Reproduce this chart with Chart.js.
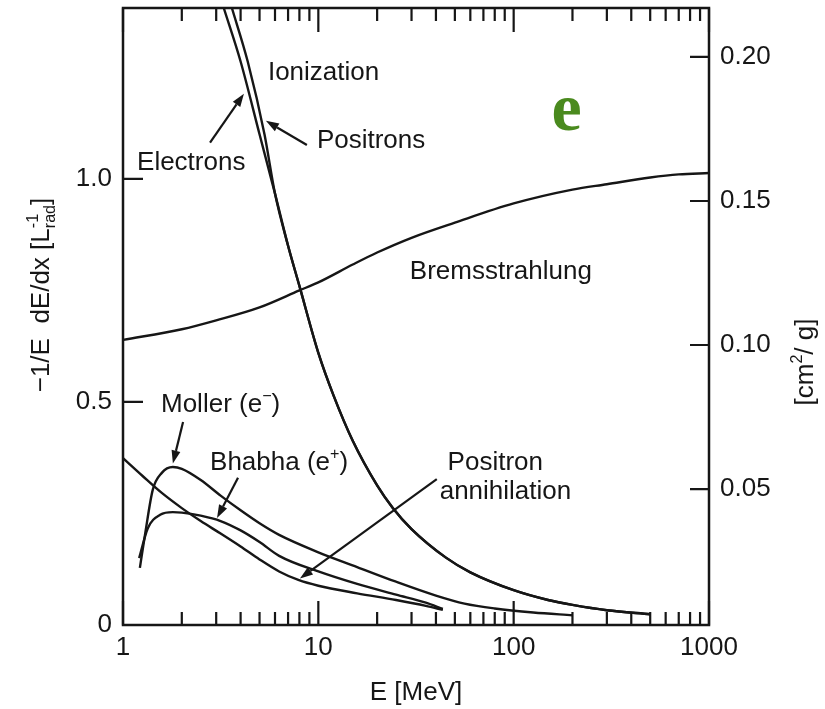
<!DOCTYPE html>
<html>
<head>
<meta charset="utf-8">
<script src="https://cdn.jsdelivr.net/npm/chart.js@4.4.1/dist/chart.umd.min.js"></script>
<style>
  html, body { margin: 0; padding: 0; background: #fff; }
  #wrap { width: 825px; height: 709px; }
</style>
</head>
<body>
<div id="wrap"><canvas id="chart" width="825" height="709"></canvas></div>
<script>
// Fractional energy loss per radiation length, -1/E dE/dx [1/L_rad], vs. E [MeV]

// Ionization: electron and positron branches split at low energy, then share one curve
const electronE = [3.28, 4, 5];
const electronLoss = [1.383, 1.263, 1.100];
const positronE = [3.61, 4.35, 5.3];
const positronLoss = [1.383, 1.263, 1.100];
const ionizationE = [6, 7, 8, 10, 12, 15, 20, 24, 30, 45, 60, 100, 150, 200, 300, 500];
const ionizationLoss = [0.967, 0.850, 0.760, 0.610, 0.513, 0.413, 0.313, 0.263, 0.215, 0.151, 0.118, 0.078, 0.056, 0.045, 0.033, 0.024];

const bremsE = [1, 2, 3, 5, 8, 10, 15, 20, 30, 50, 100, 200, 300, 500, 700, 1000];
const bremsLoss = [0.639, 0.663, 0.683, 0.712, 0.750, 0.768, 0.808, 0.835, 0.868, 0.902, 0.945, 0.976, 0.988, 1.003, 1.010, 1.013];

const mollerE = [1.22, 1.30, 1.42, 1.58, 1.80, 2.0, 2.5, 3.16, 4, 5, 6.3, 10, 15.8, 25, 40, 56, 80, 126, 200];
const mollerLoss = [0.128, 0.206, 0.303, 0.341, 0.354, 0.350, 0.325, 0.290, 0.257, 0.228, 0.202, 0.163, 0.130, 0.097, 0.066, 0.048, 0.037, 0.028, 0.022];

const bhabhaE = [1.21, 1.34, 1.55, 1.80, 2.0, 2.5, 3.16, 4, 5, 6.3, 10, 15.8, 25, 35.5, 43.4];
const bhabhaLoss = [0.150, 0.217, 0.247, 0.253, 0.252, 0.245, 0.233, 0.212, 0.186, 0.155, 0.120, 0.092, 0.068, 0.050, 0.036];

const annihilationE = [1, 1.26, 1.58, 2, 2.5, 3.16, 4, 5, 6.3, 7.9, 10, 15.8, 25, 35.5, 43.4];
const annihilationLoss = [0.374, 0.334, 0.296, 0.262, 0.233, 0.205, 0.176, 0.147, 0.120, 0.101, 0.088, 0.071, 0.056, 0.043, 0.034];

// axis ranges and tick labels
const energyRange = [1, 1000];
const energyTickLabels = [1, 10, 100, 1000];
const lossRange = [0, 1.383];
const massRange = [0.0028, 0.217];   // right axis, cm^2/g

// text and arrows placed in (E, loss) coordinates
const curveLabels = [
    { parts: [['Ionization']], at: [5.52, 1.222] },
    { parts: [['Positrons']], at: [9.83, 1.070] },
    { parts: [['Electrons']], at: [1.18, 1.020] },
    { parts: [['Bremsstrahlung']], at: [29.4, 0.776] },
    { parts: [['Moller (e'], ['\u2212', 'sup'], [')']], at: [1.565, 0.478] },
    { parts: [['Bhabha (e'], ['+', 'sup'], [')']], at: [2.79, 0.348] },
    { parts: [['Positron']], at: [45.9, 0.348] },
    { parts: [['annihilation']], at: [41.8, 0.283] }
];
const pointerArrows = [
    { from: [2.79, 1.081], to: [4.16, 1.191] },
    { from: [8.74, 1.076], to: [5.39, 1.130] },
    { from: [2.03, 0.455], to: [1.80, 0.362] },
    { from: [3.88, 0.330], to: [3.03, 0.240] },
    { from: [40.4, 0.327], to: [8.05, 0.104] }
];

const INK = '#161616';
const FONT = '"Liberation Sans", Arial, Helvetica, sans-serif';
const SIZE = 26;

function toPoints(xs, ys) {
    return xs.map((x, i) => ({ x: x, y: ys[i] }));
}

function curve(points) {
    return {
        data: points,
        borderColor: INK,
        borderWidth: 2.4,
        pointRadius: 0,
        fill: false,
        cubicInterpolationMode: 'monotone',
        yAxisID: 'y'
    };
}

// draws a run of text pieces, with optional super/subscripts
function drawRich(ctx, x, y, parts, size) {
    let cx = x;
    parts.forEach(([text, kind]) => {
        let s = size, dy = 0;
        if (kind === 'sup') { s = size * 0.62; dy = -size * 0.42; }
        if (kind === 'sub') { s = size * 0.62; dy = size * 0.22; }
        ctx.font = `${s}px ${FONT}`;
        ctx.fillText(text, cx, y + dy);
        cx += ctx.measureText(text).width;
    });
    return cx - x;
}

function richWidth(ctx, parts, size) {
    let w = 0;
    parts.forEach(([text, kind]) => {
        const s = kind ? size * 0.62 : size;
        ctx.font = `${s}px ${FONT}`;
        w += ctx.measureText(text).width;
    });
    return w;
}

// keep the plot box fixed: no extra room for overhanging tick labels
function noOverhang(s) {
    s.paddingTop = 0;
    s.paddingBottom = 0;
    s.paddingLeft = 0;
    s.paddingRight = 0;
}

// frame box with inward tick marks on all four sides
const frameTicks = {
    id: 'frameTicks',
    afterDatasetsDraw(chart) {
        const { ctx, chartArea: a, scales } = chart;
        ctx.save();
        ctx.strokeStyle = INK;
        ctx.lineWidth = 2.5;
        ctx.strokeRect(a.left, a.top, a.right - a.left, a.bottom - a.top);

        ctx.lineWidth = 2.2;
        ctx.beginPath();
        for (let d = scales.x.min; d <= scales.x.max; d *= 10) {
            for (let m = 1; m < 10; m++) {
                const v = m * d;
                if (v > scales.x.max) break;
                const px = scales.x.getPixelForValue(v);
                const len = m === 1 ? 24 : 13;
                ctx.moveTo(px, a.bottom);
                ctx.lineTo(px, a.bottom - len);
                ctx.moveTo(px, a.top);
                ctx.lineTo(px, a.top + len);
            }
        }
        scales.y.ticks.forEach(t => {
            if (t.value <= 0) return;
            const py = scales.y.getPixelForValue(t.value);
            ctx.moveTo(a.left, py);
            ctx.lineTo(a.left + 20, py);
        });
        scales.y1.ticks.forEach(t => {
            const py = scales.y1.getPixelForValue(t.value);
            ctx.moveTo(a.right, py);
            ctx.lineTo(a.right - 19, py);
        });
        ctx.stroke();
        ctx.restore();
    }
};

// curve names, pointer arrows, the particle symbol and the rotated axis titles
const annotations = {
    id: 'annotations',
    afterDraw(chart) {
        const { ctx, chartArea: a, scales } = chart;
        const px = e => scales.x.getPixelForValue(e);
        const py = v => scales.y.getPixelForValue(v);
        ctx.save();
        ctx.fillStyle = INK;
        ctx.strokeStyle = INK;
        ctx.textBaseline = 'alphabetic';
        ctx.textAlign = 'left';

        curveLabels.forEach(l => drawRich(ctx, px(l.at[0]), py(l.at[1]), l.parts, SIZE));

        pointerArrows.forEach(ar => {
            const x0 = px(ar.from[0]), y0 = py(ar.from[1]);
            const x1 = px(ar.to[0]), y1 = py(ar.to[1]);
            const ang = Math.atan2(y1 - y0, x1 - x0);
            const head = 13, half = 4.5;
            const bx = x1 - head * Math.cos(ang), by = y1 - head * Math.sin(ang);
            ctx.lineWidth = 2.2;
            ctx.beginPath();
            ctx.moveTo(x0, y0);
            ctx.lineTo(bx, by);
            ctx.stroke();
            ctx.beginPath();
            ctx.moveTo(x1, y1);
            ctx.lineTo(bx + half * Math.sin(ang), by - half * Math.cos(ang));
            ctx.lineTo(bx - half * Math.sin(ang), by + half * Math.cos(ang));
            ctx.closePath();
            ctx.fill();
        });

        ctx.fillStyle = '#4a8a1e';
        ctx.font = 'bold 68px "Liberation Serif", "Times New Roman", serif';
        ctx.fillText('e', px(156), py(1.110));

        // left title, read bottom to top
        ctx.fillStyle = INK;
        const leftParts = [['\u22121/E  dE/dx [L'], ['rad', 'sub'], [']']];
        ctx.save();
        ctx.translate(49, 295);
        ctx.rotate(-Math.PI / 2);
        const lw = richWidth(ctx, leftParts, SIZE);
        const w0 = drawRich(ctx, -lw / 2, 0, leftParts.slice(0, 2), SIZE);
        const subW = richWidth(ctx, [leftParts[1]], SIZE);
        drawRich(ctx, -lw / 2 + w0 - subW, 0, [['-1', 'sup']], SIZE);
        drawRich(ctx, -lw / 2 + w0, 0, [leftParts[2]], SIZE);
        ctx.restore();

        // right title
        const rightParts = [['[cm'], ['2', 'sup'], ['/ g]']];
        ctx.save();
        ctx.translate(813, 362);
        ctx.rotate(-Math.PI / 2);
        drawRich(ctx, -richWidth(ctx, rightParts, SIZE) / 2, 0, rightParts, SIZE);
        ctx.restore();

        ctx.restore();
    }
};

const tickFont = { family: FONT, size: SIZE };

new Chart(document.getElementById('chart'), {
    type: 'line',
    data: {
        datasets: [
            curve(toPoints(electronE.concat(ionizationE), electronLoss.concat(ionizationLoss))),
            curve(toPoints(positronE.concat(ionizationE), positronLoss.concat(ionizationLoss))),
            curve(toPoints(bremsE, bremsLoss)),
            curve(toPoints(mollerE, mollerLoss)),
            curve(toPoints(bhabhaE, bhabhaLoss)),
            curve(toPoints(annihilationE, annihilationLoss))
        ]
    },
    options: {
        responsive: false,
        animation: false,
        devicePixelRatio: 1,
        layout: { padding: { top: 8, left: 0, right: 0, bottom: 0 } },
        plugins: {
            legend: { display: false },
            tooltip: { enabled: false }
        },
        scales: {
            x: {
                type: 'logarithmic',
                position: 'bottom',
                min: energyRange[0],
                max: energyRange[1],
                grid: { display: false, drawTicks: false },
                border: { display: false },
                ticks: {
                    autoSkip: false,
                    maxRotation: 0,
                    padding: 7,
                    color: INK,
                    font: tickFont,
                    callback: v => energyTickLabels.includes(v) ? String(v) : ''
                },
                title: {
                    display: true,
                    text: 'E [MeV]',
                    color: INK,
                    font: tickFont,
                    padding: { top: 0, bottom: 1 }
                },
                afterFit: s => { s.height = 84; noOverhang(s); }
            },
            y: {
                type: 'linear',
                position: 'left',
                min: lossRange[0],
                max: lossRange[1],
                grid: { display: false, drawTicks: false },
                border: { display: false },
                ticks: {
                    stepSize: 0.5,
                    includeBounds: false,
                    padding: 11,
                    color: INK,
                    font: tickFont,
                    callback: v => v === 0 ? '0' : v.toFixed(1)
                },
                afterFit: s => { s.width = 123; noOverhang(s); }
            },
            y1: {
                type: 'linear',
                position: 'right',
                min: massRange[0],
                max: massRange[1],
                grid: { display: false, drawTicks: false },
                border: { display: false },
                ticks: {
                    stepSize: 0.05,
                    includeBounds: false,
                    padding: 11,
                    color: INK,
                    font: tickFont,
                    callback: v => v.toFixed(2)
                },
                afterFit: s => { s.width = 116; noOverhang(s); }
            }
        }
    },
    plugins: [frameTicks, annotations]
});
</script>
</body>
</html>
